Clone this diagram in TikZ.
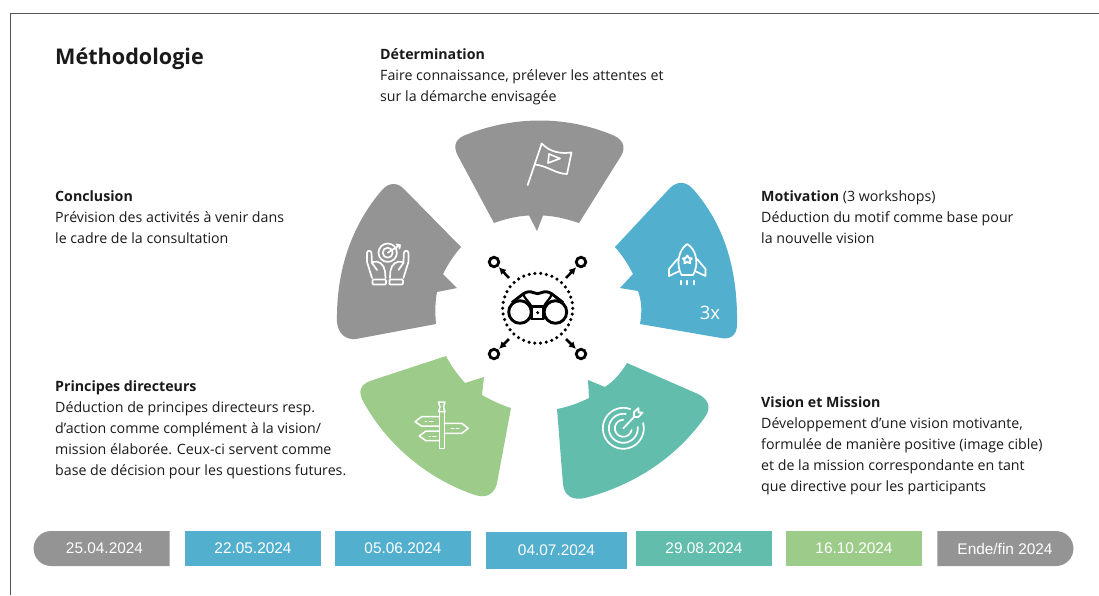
\documentclass[tikz,border=0pt]{standalone}
\usepackage{fontspec}
\setmainfont{Open Sans}
\newfontfamily\datefont{Liberation Sans}
\usetikzlibrary{arrows.meta,shapes.misc}
\definecolor{cgray}{HTML}{949494}
\definecolor{cblue}{HTML}{52AFCE}
\definecolor{cteal}{HTML}{62BDAC}
\definecolor{cgreen}{HTML}{9CCB8A}
\definecolor{cframe}{HTML}{555555}
\definecolor{ctext}{HTML}{1A1A1A}
\tikzset{
  blocktext/.style={anchor=north west,align=left,inner sep=0pt,text=ctext,font=\fontsize{14.2}{21}\selectfont},
  datebox/.style={minimum width=136pt,minimum height=35pt,inner sep=0pt,text=white,font=\datefont\fontsize{15.4}{17}\selectfont},
  icon/.style={draw=white,line width=1.7pt,line join=round,line cap=round},
  bico/.style={draw=black,line width=2.9pt,line join=round},
  ring/.style={circle,draw=black,line width=2.8pt,minimum size=9.5pt,inner sep=0pt},
  burst/.style={draw=black,line width=2.5pt,-{Latex[length=7pt,width=7.5pt]},shorten >=1pt},
}
\begin{document}
\begin{tikzpicture}[x=1pt,y=-1pt]
\useasboundingbox (0,0) rectangle (1099,595);
\fill[white] (0,0) rectangle (1099,595);
\draw[cframe,line width=1pt] (10.5,595) -- (10.5,13.5) -- (1099,13.5);

% wedges
\fill[cgray] (494,223) -- (458,156) .. controls (452,145) and (456,138) .. (468,134) .. controls (515,116) and (565,116) .. (610,134) .. controls (622,138) and (627,146) .. (621,156) -- (579,223) .. controls (567,219) and (555,216) .. (543,215.5) -- (537,231) -- (529,215.5) .. controls (517,216) and (505,219) .. (494,223) -- cycle;
\fill[cblue] (615,247) -- (670,188) .. controls (677,181) and (686,181) .. (693,189) .. controls (722,222) and (738,265) .. (737,325) .. controls (737,335) and (730,340) .. (721,338) -- (640,324) .. controls (642,313) and (642,302) .. (638,291) -- (620,288) -- (633,274) .. controls (628,264) and (622,255) .. (615,247) -- cycle;
\fill[cgray] (461,247) -- (405,190) .. controls (398,182) and (389,182) .. (382,190) .. controls (352,225) and (336,270) .. (337,322) .. controls (338,334) and (346,340) .. (356,339) -- (436,324) .. controls (435,313) and (435,302) .. (437,292) -- (457,288) -- (443,274) .. controls (448,264) and (454,255) .. (461,247) -- cycle;
\fill[cgreen] (446,356) -- (370,381) .. controls (360,385) and (358,392) .. (363,401) .. controls (385,442) and (425,478) .. (475,495) .. controls (487,499) and (495,493) .. (497,483) -- (511,408) .. controls (501,405) and (491,400) .. (482,395) -- (484,377) -- (465,383) .. controls (458,375) and (451,366) .. (446,356) -- cycle;
\fill[cteal] (627,363) -- (698,394) .. controls (708,399) and (712,407) .. (705,417) .. controls (678,455) and (638,484) .. (585,498) .. controls (572,501) and (564,495) .. (563,484) -- (557,409) .. controls (568,407) and (579,403) .. (589,398) -- (588,380) -- (605,387) .. controls (614,381) and (621,373) .. (627,363) -- cycle;

% flag icon
\draw[icon] (527.7,185) -- (541.7,143.5) .. controls (550,152) and (560,154) .. (571.5,152.5) -- (567,174) .. controls (556,174) and (548,166) .. (535,164.5);
\draw[icon] (549,154) -- (560,158.5) -- (548,163) -- cycle;

% rocket icon
\draw[icon] (687.3,244) .. controls (678,250) and (676,265) .. (681.5,275) -- (693,275) .. controls (699,265) and (697,250) .. (687.3,244) -- cycle;
\draw[icon,line width=1.9pt] (687.3,255.5) -- (689,258) -- (691.8,258.4) -- (689.8,260.5) -- (690.2,263.2) -- (687.3,262) -- (684.4,263.2) -- (684.8,260.5) -- (682.8,258.4) -- (685.6,258) -- cycle;
\draw[icon] (677.5,259) -- (669,269) -- (669,276) -- (679.5,271);
\draw[icon] (697,259) -- (705.5,269) -- (705.5,276) -- (695,271);
\draw[icon] (680.7,280.7) -- (680.7,284.5) (687.3,280.7) -- (687.3,284.5) (694,280.7) -- (694,284.5);
\node[text=white,font=\fontsize{18.5}{20}\selectfont,inner sep=0pt] (three) at (710,313) {3x};

% hands icon
\draw[icon] (387.7,252.7) circle[radius=9.2];
\draw[icon] (387.7,252.7) circle[radius=5];
\draw[icon] (387.7,252.7) -- (400,245) (396.5,244.5) -- (400,245) -- (399.5,248.5);
\draw[icon] (372,278) -- (367,262) -- (367,253) .. controls (367,250) and (371,250) .. (371.5,253) -- (372,263) -- (377,270);
\draw[icon] (373,262) .. controls (378,260) and (384,264) .. (385,271) -- (385.5,278);
\draw[icon,rounded corners=1pt] (372.5,279.5) rectangle (386,284.5);
\draw[icon] (403.4,278) -- (408.4,262) -- (408.4,253) .. controls (408.4,250) and (404.4,250) .. (403.9,253) -- (403.4,263) -- (398.4,270);
\draw[icon] (402.4,262) .. controls (397.4,260) and (391.4,264) .. (390.4,271) -- (389.9,278);
\draw[icon,rounded corners=1pt] (389.4,279.5) rectangle (402.9,284.5);

% signpost icon
\draw[icon,line width=1.5pt] (439.3,411.7) rectangle (444.3,448.5);
\draw[icon,line width=1.5pt] (438.5,402) -- (445,402) -- (443.5,407) -- (445,411.7) -- (438.5,411.7) -- (440,407) -- cycle;
\draw[icon,line width=1.5pt] (439.3,416.7) -- (421.7,416.7) -- (415,421.7) -- (421.7,426.2) -- (439.3,426.2);
\draw[icon,line width=1.5pt] (444.3,423.3) -- (461.7,423.3) -- (468.3,428.3) -- (461.7,433.3) -- (444.3,433.3);
\draw[icon,line width=1.5pt] (439.3,431) -- (426,431) -- (419.3,436) -- (426,440.7) -- (439.3,440.7);
\draw[icon,line width=1pt] (425,421.7) -- (426.5,421.7) (429,421.7) -- (433,421.7) (451,428.3) -- (454,428.3) (456,428.3) -- (459,428.3) (429,436) -- (430.5,436) (432.5,436) -- (436,436);

% target icon
\draw[icon] ([shift={(-15:20.5)}]623.3,428.3) arc[start angle=-15,end angle=290,radius=20.5];
\draw[icon] ([shift={(-5:14.5)}]623.3,428.3) arc[start angle=-5,end angle=280,radius=14.5];
\draw[icon] ([shift={(10:8.5)}]623.3,428.3) arc[start angle=10,end angle=270,radius=8.5];
\draw[icon] (623.3,428.3) -- (634,417);
\draw[icon] (634,417) -- (634,412) -- (638.5,408) -- (638.5,412.5) -- (642.5,412.5) -- (638.5,417) -- cycle;

% centre icon
\draw[black,line width=3.5pt,line cap=round,dash pattern=on 0pt off 5.79pt] (537.7,308.3) circle[radius=35];
\draw[bico] (520,312) circle[radius=11.3];
\draw[bico] (555.4,312) circle[radius=11.3];
\draw[bico] (531.7,306.5) rectangle (543.7,319);
\fill[black] (537.7,312.7) circle[radius=1.7];
\draw[bico] (512,302.5) -- (523,294) .. controls (527,291) and (531,291.5) .. (533,292.5) .. controls (536,294) and (539,294) .. (542,292.5) .. controls (544,291.5) and (548,291) .. (552,294) -- (563,302.5);
\draw[bico,line width=2.2pt] (523,294) .. controls (525,299) and (529,302) .. (531.7,306.5);
\draw[bico,line width=2.2pt] (552,294) .. controls (550,299) and (546,302) .. (543.7,306.5);
\node[ring] (r1) at (494,262) {};
\node[ring] (r2) at (581,262) {};
\node[ring] (r3) at (494,354) {};
\node[ring] (r4) at (581,354) {};
\coordinate (c1) at (509,278);
\coordinate (c2) at (566,278);
\coordinate (c3) at (509,339);
\coordinate (c4) at (566,339);
\draw[burst] (c1) -- (r1);
\draw[burst] (c2) -- (r2);
\draw[burst] (c3) -- (r3);
\draw[burst] (c4) -- (r4);

% texts
\node[anchor=north west,inner sep=0pt,text=ctext,font=\fontsize{21.6}{24}\bfseries\selectfont] (title) at (55,48) {Méthodologie};
\node[blocktext] (t1) at (380,48.5) {\textbf{Détermination}\\Faire connaissance, prélever les attentes et\\sur la démarche envisagée};
\node[blocktext] (t2) at (761,191) {\textbf{Motivation} (3 workshops)\\Déduction du motif comme base pour\\la nouvelle vision};
\node[blocktext] (t3) at (55,191) {\textbf{Conclusion}\\Prévision des activités à venir dans\\le cadre de la consultation};
\node[blocktext] (t4) at (55,381) {\textbf{Principes directeurs}\\Déduction de principes directeurs resp.\\d’action comme complément à la vision/\\mission élaborée. Ceux-ci servent comme\\base de décision pour les questions futures.};
\node[blocktext] (t5) at (761,397) {\textbf{Vision et Mission}\\Développement d’une vision motivante,\\formulée de manière positive (image cible)\\et de la mission correspondante en tant\\que directive pour les participants};

% dates
\node[datebox,fill=cgray,rounded rectangle,rounded rectangle east arc=none] (d1) at (102,548.5) {\hspace{5pt}25.04.2024};
\node[datebox,fill=cblue] (d2) at (253,548.5) {22.05.2024};
\node[datebox,fill=cblue] (d3) at (403,548.5) {05.06.2024};
\node[datebox,fill=cblue,minimum width=141pt,minimum height=37pt] (d4) at (556.5,550) {04.07.2024};
\node[datebox,fill=cteal] (d5) at (704,548.5) {29.08.2024};
\node[datebox,fill=cgreen] (d6) at (854,548.5) {16.10.2024};
\node[datebox,fill=cgray,rounded rectangle,rounded rectangle west arc=none] (d7) at (1005,548.5) {Ende/fin 2024\hspace{4pt}};
\end{tikzpicture}
\end{document}
